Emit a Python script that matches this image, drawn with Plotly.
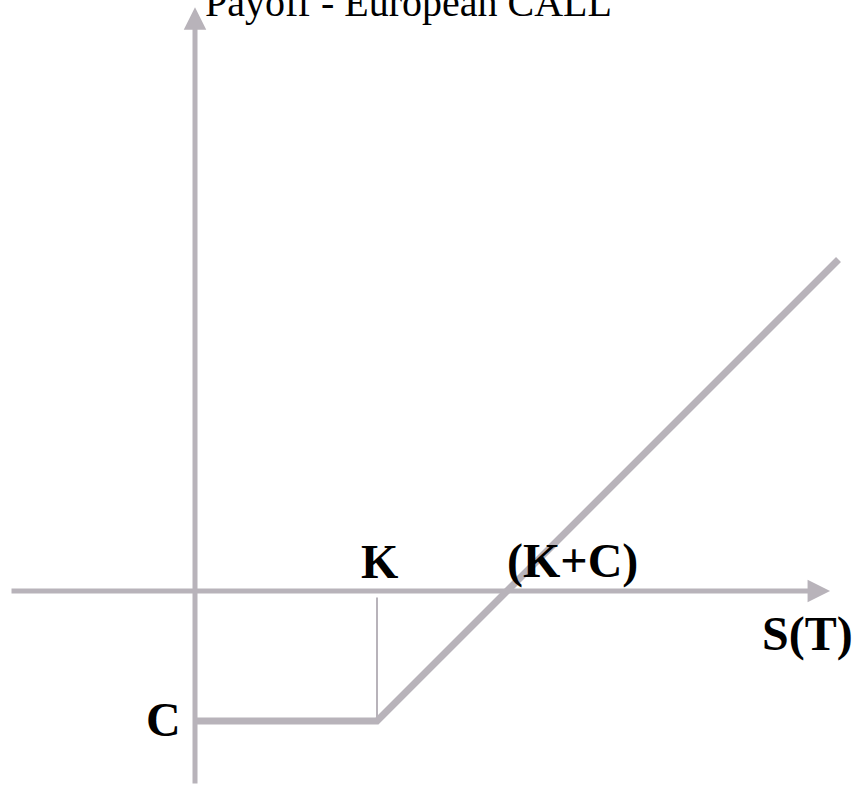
import plotly.graph_objects as go

# Data (units: strike K, premium C)
K = 1.4
C = 1.0
S_MAX = 4.95
s_points = [0.0, K, S_MAX]
payoff = [-C, -C, S_MAX - K - C]
labels = ["K", "(K+C)", "S(T)", "C"]
title_text = "Payoff - European CALL"

GRAY = "#b8b3ba"
FONT = "Liberation Serif"

fig = go.Figure()

# payoff line
fig.add_trace(go.Scatter(x=s_points, y=payoff, mode="lines",
                         line=dict(color=GRAY, width=7), hoverinfo="skip"))
# thin guide at K
fig.add_trace(go.Scatter(x=[K, K], y=[-0.05, -C], mode="lines",
                         line=dict(color=GRAY, width=2), hoverinfo="skip"))

# axes as arrows
X_MIN, X_MAX = -1.423, 4.885
Y_MIN, Y_MAX = -1.492, 4.49
fig.add_annotation(x=X_MAX, y=0, ax=X_MIN, ay=0, xref="x", yref="y",
                   axref="x", ayref="y", showarrow=True, arrowhead=2,
                   arrowsize=0.9, arrowwidth=5, arrowcolor=GRAY, text="")
fig.add_annotation(x=0, y=Y_MAX, ax=0, ay=Y_MIN, xref="x", yref="y",
                   axref="x", ayref="y", showarrow=True, arrowhead=2,
                   arrowsize=0.9, arrowwidth=5, arrowcolor=GRAY, text="")

lab_font = dict(family=FONT, size=48, color="black", weight="bold")
fig.add_annotation(x=K + 0.02, y=0.23, text=labels[0], showarrow=False, font=lab_font)
fig.add_annotation(x=K + C + 0.5, y=0.23, text=labels[1], showarrow=False, font=lab_font)
fig.add_annotation(x=4.71, y=-0.33, text=labels[2], showarrow=False, font=lab_font)
fig.add_annotation(x=-0.24, y=-C + 0.01, text=labels[3], showarrow=False, font=lab_font)

fig.add_annotation(x=1.646, y=4.53, text=title_text, showarrow=False,
                   font=dict(family=FONT, size=40, color="black"))

fig.update_layout(
    width=861, height=792,
    margin=dict(l=0, r=0, t=0, b=0),
    paper_bgcolor="white", plot_bgcolor="white",
    showlegend=False,
    xaxis=dict(range=[-1.5, 5.1231], visible=False, fixedrange=True),
    yaxis=dict(range=[-1.5462, 4.5462], visible=False, fixedrange=True),
)

fig.write_html("out.html", config={"displayModeBar": False},
               post_script="document.body.style.margin='0px';document.body.style.overflow='hidden';")
